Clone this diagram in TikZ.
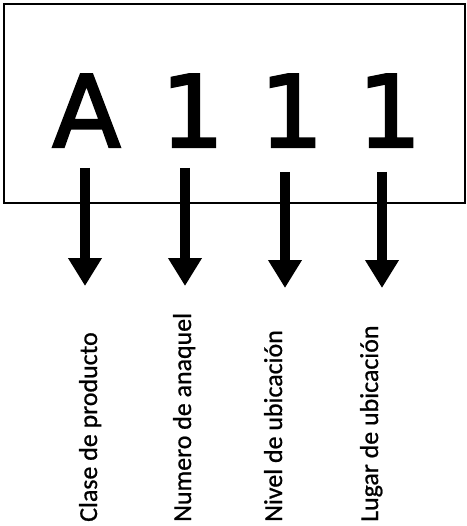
\documentclass[tikz,border=0pt]{standalone}
\usepackage{fontspec}
\setmainfont{Carlito}[RawFeature={embolden=0.8}]
\newfontfamily\codefont{DejaVu Sans}[RawFeature={embolden=2.5}]
\usetikzlibrary{arrows.meta}
\tikzset{
  codechar/.style={font=\codefont\fontsize{100}{100}\selectfont, inner sep=0pt, anchor=base},
  fieldlabel/.style={font=\fontsize{26}{26}\selectfont, rotate=90, anchor=base west, inner sep=0pt},
  fieldarrow/.style={line width=10bp, -{Triangle[width=32bp,length=28bp]}},
  frame/.style={line width=2bp}
}
\begin{document}
\begin{tikzpicture}[x=1bp,y=-1bp]
\useasboundingbox (0,0) rectangle (467,526);
% outer frame around the code
\draw[frame] (4,4) rectangle (465,203);
% the code characters
\node[codechar] (cA)  at (86.5,147) {A};
\node[codechar] (c1a) at (192.5,147) {1};
\node[codechar] (c1b) at (291.5,147) {1};
\node[codechar] (c1c) at (389.5,147) {1};
% arrow start and end points
\coordinate (sA) at (85,168);  \coordinate (eA) at (85,286);
\coordinate (s1) at (185,168); \coordinate (e1) at (185,286);
\coordinate (s2) at (285,172); \coordinate (e2) at (285,288);
\coordinate (s3) at (382,172); \coordinate (e3) at (382,288);
\draw[fieldarrow] (sA) -- (eA);
\draw[fieldarrow] (s1) -- (e1);
\draw[fieldarrow] (s2) -- (e2);
\draw[fieldarrow] (s3) -- (e3);
% field labels, reading bottom to top
\node[fieldlabel] (lA) at (97,522) {Clase de producto};
\node[fieldlabel] (l1) at (191,522) {Numero de anaquel};
\node[fieldlabel] (l2) at (282,522) {Nivel de ubicación};
\node[fieldlabel] (l3) at (378,522) {Lugar de ubicación};
\end{tikzpicture}
\end{document}
